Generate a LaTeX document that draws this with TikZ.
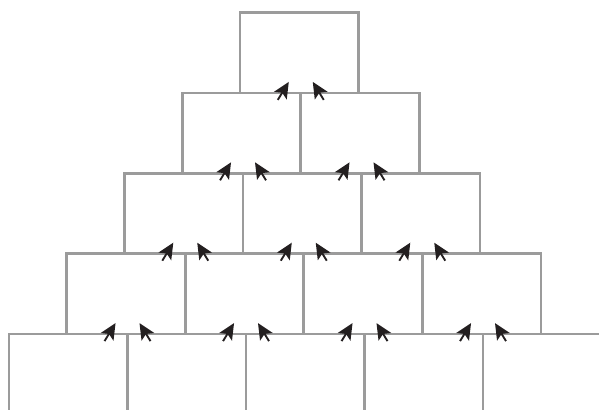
\documentclass[tikz,border=0pt]{standalone}
\usepackage{tikz}
\usetikzlibrary{arrows.meta,calc}
\definecolor{wall}{HTML}{9B9B9B}
\definecolor{push}{HTML}{231F20}

\begin{document}
\begin{tikzpicture}[x=0.75pt, y=-0.75pt,
        brick/.style={rectangle, draw=wall, line width=1.9pt, anchor=north west,
        minimum width=88.9pt, minimum height=60.3pt, inner sep=0pt, outer sep=0pt},
        force/.style={-{Stealth[length=12pt, width=11pt, inset=2.5pt]}, line width=1.4pt, push},
      ]
      \useasboundingbox (0, 0) rectangle (599, 410);
      \clip (0, 0) rectangle (599, 410);

      % rows of bricks, one more in each row
      \foreach \r in {1,...,5} {
        \foreach \i in {1,...,\r} {
          \node[brick] (b\r\i) at ({240-(\r-1)*57.75+(\i-1)*118.5}, {12.5+(\r-1)*80.4}) {};
        }
      }

      % two pushes at every joint
      \foreach \r in {2,...,5} {
        \foreach \i in {2,...,\r} {
          \pgfmathtruncatemacro\k{\i-1}
          \draw[force] ($(b\r\k.north east)+(-23, 7)$) -- ($(b\r\k.north east)+(-12, -11)$);
          \draw[force] ($(b\r\i.north west)+(23, 7)$) -- ($(b\r\i.north west)+(12, -11)$);
        }
      }
    \end{tikzpicture}
\end{document}
